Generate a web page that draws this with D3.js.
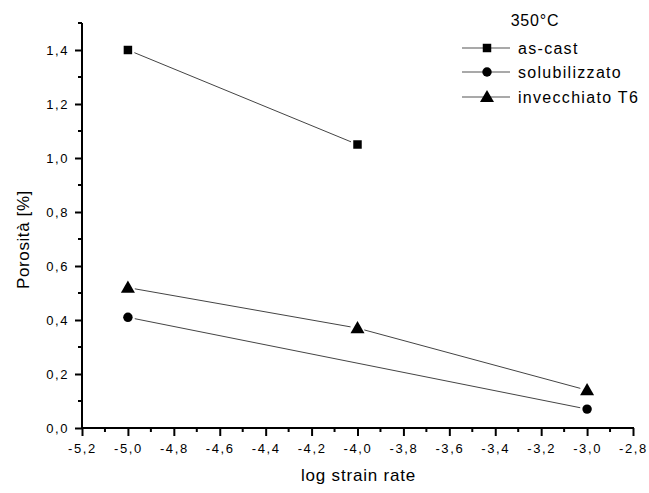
<!DOCTYPE html>
<html><head><meta charset="utf-8">
<script src="https://cdn.jsdelivr.net/npm/d3@7"></script>
<style>body{margin:0;background:#fff}svg{display:block}text{font-family:"Liberation Sans",Arial,sans-serif;fill:#000}</style>
</head><body>
<svg id="c" width="649" height="493"></svg>
<script>
const strainRates = [-5, -4, -3];
const asCast = [1.40, 1.05, null];
const solubilizzato = [0.41, null, 0.07];
const invecchiato = [0.52, 0.37, 0.14];
const seriesNames = ["as-cast", "solubilizzato", "invecchiato T6"];
const xTicks = [-5.2,-5.0,-4.8,-4.6,-4.4,-4.2,-4.0,-3.8,-3.6,-3.4,-3.2,-3.0,-2.8];
const yTicks = [0,0.2,0.4,0.6,0.8,1.0,1.2,1.4];
const legendTitle = "350°C";
const xTitle = "log strain rate";
const yTitle = "Porosità [%]";

const svg = d3.select("#c");
const L = 82, R = 633, T = 23, B = 428;
const x = d3.scaleLinear().domain([-5.2, -2.8]).range([L, R]);
const y = d3.scaleLinear().domain([0, 1.5]).range([B, T]);
const fmt = d => d3.format(".1f")(d).replace(".", ",").replace("−","-");

// minor ticks
const xMinor = d3.range(-5.1, -2.85, 0.2);
const yMinor = d3.range(0.1, 1.55, 0.2);
const g = svg.append("g");
g.selectAll(".xm").data(xMinor).join("line")
  .attr("x1", d => x(d)).attr("x2", d => x(d)).attr("y1", B).attr("y2", B + 4)
  .attr("stroke", "#000").attr("stroke-width", 2);
g.selectAll(".ym").data(yMinor).join("line")
  .attr("y1", d => y(d)).attr("y2", d => y(d)).attr("x1", L).attr("x2", L - 4)
  .attr("stroke", "#000").attr("stroke-width", 2);

const xAxis = svg.append("g").attr("transform", `translate(0,${B})`)
  .call(d3.axisBottom(x).tickValues(xTicks).tickFormat(fmt).tickSize(8).tickPadding(8));
const yAxis = svg.append("g").attr("transform", `translate(${L},0)`)
  .call(d3.axisLeft(y).tickValues(yTicks).tickFormat(fmt).tickSize(7).tickPadding(6));
[xAxis, yAxis].forEach(a => {
  a.select(".domain").remove();
  a.selectAll(".tick line").attr("stroke", "#000").attr("stroke-width", 2);
  a.selectAll(".tick text").attr("font-size", 13).attr("letter-spacing", "1.6px")
    .attr("fill", "#222").style("font-family", '"Liberation Sans",Arial,sans-serif');
});
svg.append("line").attr("x1", L).attr("x2", R + 1).attr("y1", B).attr("y2", B).attr("stroke", "#000").attr("stroke-width", 2);
svg.append("line").attr("x1", L).attr("x2", L).attr("y1", T).attr("y2", B + 1).attr("stroke", "#000").attr("stroke-width", 2);

// axis titles
svg.append("text").attr("x", (L + R) / 2 + 1).attr("y", 481).attr("text-anchor", "middle")
  .attr("font-size", 17).attr("letter-spacing", "0.8px").text(xTitle);
svg.append("text").attr("transform", `translate(29,${(T + B) / 2 + 14}) rotate(-90)`)
  .attr("text-anchor", "middle").attr("font-size", 17).attr("letter-spacing", "0.6px").text(yTitle);

const series = [asCast, solubilizzato, invecchiato];
const shapes = [d3.symbolSquare, d3.symbolCircle, d3.symbolTriangle];
const sizes = [72, 70, 85];
const gap = 7;
series.forEach((vals, i) => {
  const pts = strainRates.map((s, j) => [s, vals[j]]).filter(p => p[1] != null)
    .map(p => [x(p[0]), y(p[1])]);
  for (let k = 0; k < pts.length - 1; k++) {
    const [x1, y1] = pts[k], [x2, y2] = pts[k + 1];
    const len = Math.hypot(x2 - x1, y2 - y1), ux = (x2 - x1) / len, uy = (y2 - y1) / len;
    svg.append("line").attr("x1", x1 + ux * gap).attr("y1", y1 + uy * gap)
      .attr("x2", x2 - ux * gap).attr("y2", y2 - uy * gap)
      .attr("stroke", "#444").attr("stroke-width", 1);
  }
  svg.selectAll(null).data(pts).join("path")
    .attr("transform", d => `translate(${d[0]},${d[1] + (i === 2 ? 1 : 0)})`)
    .attr("d", d3.symbol().type(shapes[i]).size(sizes[i])).attr("fill", "#000");
});

// legend
svg.append("text").attr("x", 535).attr("y", 26).attr("text-anchor", "middle")
  .attr("font-size", 16).attr("letter-spacing", "0.8px").text(legendTitle);
const rowsY = [48, 72, 97];
seriesNames.forEach((n, i) => {
  const ly = rowsY[i];
  svg.append("line").attr("x1", 462).attr("x2", 510).attr("y1", ly).attr("y2", ly)
    .attr("stroke", "#555").attr("stroke-width", 1.2);
  svg.append("path").attr("transform", `translate(487,${ly + (i === 2 ? 1 : 0)})`)
    .attr("d", d3.symbol().type(shapes[i]).size(sizes[i])).attr("fill", "#000");
  svg.append("text").attr("x", 518).attr("y", ly + 6).attr("font-size", 16)
    .attr("letter-spacing", "1.3px").text(n);
});
</script>
</body></html>
